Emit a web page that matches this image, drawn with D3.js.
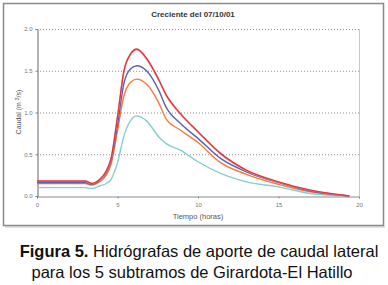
<!DOCTYPE html>
<html>
<head>
<meta charset="utf-8">
<script src="https://cdn.jsdelivr.net/npm/d3@7"></script>
<style>
  body { margin: 0; background: #fff; }
  svg { display: block; font-family: "Liberation Sans", Arial, sans-serif; }
</style>
</head>
<body>
<div class="chart"></div>
<script>
// tiempo (horas)
const tiempo = [0, 3, 3.4, 3.9, 4.3, 4.6, 5.0, 5.4, 5.8, 6.2, 6.8, 7.6, 8.0, 8.9, 10.0, 11.4, 13.0, 15.0, 17.0, 19.4]
// caudal por subtramo (m3/s)
const tramo1 = [0.18, 0.18, 0.15, 0.20, 0.30, 0.45, 0.95, 1.50, 1.70, 1.76, 1.65, 1.38, 1.22, 0.99, 0.77, 0.51, 0.31, 0.17, 0.07, 0.0]
const tramo2 = [0.175, 0.175, 0.148, 0.197, 0.295, 0.445, 0.94, 1.49, 1.69, 1.75, 1.64, 1.37, 1.21, 0.98, 0.765, 0.505, 0.305, 0.167, 0.068, 0.0]
const tramo3 = [0.16, 0.16, 0.14, 0.19, 0.28, 0.42, 0.85, 1.35, 1.52, 1.56, 1.50, 1.25, 1.07, 0.87, 0.69, 0.45, 0.29, 0.16, 0.06, 0.0]
const tramo4 = [0.15, 0.15, 0.13, 0.17, 0.25, 0.38, 0.78, 1.20, 1.36, 1.40, 1.34, 1.10, 0.93, 0.79, 0.64, 0.40, 0.26, 0.14, 0.05, 0.0]
const tramo5 = [0.10, 0.10, 0.09, 0.12, 0.15, 0.20, 0.40, 0.72, 0.90, 0.96, 0.90, 0.70, 0.63, 0.55, 0.41, 0.27, 0.17, 0.11, 0.03, 0.0]
const series = [
    { name: "tramo5", values: tramo5, color: "#86d0cb" },
    { name: "tramo4", values: tramo4, color: "#f47b3a" },
    { name: "tramo3", values: tramo3, color: "#5862b0" },
    { name: "tramo2", values: tramo2, color: "#e99aac" },
    { name: "tramo1", values: tramo1, color: "#e6353a" }
]
const xTicks = [0, 5, 10, 15, 20]
const yTicks = [0, 0.5, 1.0, 1.5, 2.0]

let width = 388
let height = 285
let svg = d3.select(".chart")
    .append("svg")
    .attr("width", width)
    .attr("height", height)

// marco exterior
svg.append("line")
    .attr("x1", 5).attr("x2", 385).attr("y1", 227).attr("y2", 227)
    .attr("stroke", "#e2e2e2").attr("stroke-width", 2)
svg.append("rect")
    .attr("x", 3.5).attr("y", 3.5)
    .attr("width", 380).attr("height", 222)
    .attr("fill", "none")
    .attr("stroke", "#8a8a8a")
    .attr("stroke-width", 1.5)

let x = d3.scaleLinear().domain([0, 20]).range([37, 359])
let y = d3.scaleLinear().domain([0, 2]).range([196, 29])

// rejilla punteada
svg.append("g")
    .selectAll("line")
    .data(yTicks.filter(d => d > 0))
    .enter()
    .append("line")
    .attr("x1", x(0)).attr("x2", x(20))
    .attr("y1", d => y(d) + 0.5).attr("y2", d => y(d) + 0.5)
    .attr("stroke", "#8f8f8f")
    .attr("stroke-width", 1)
    .attr("stroke-dasharray", "1,2")

// borde derecho del área
svg.append("line")
    .attr("x1", x(20) + 0.5).attr("x2", x(20) + 0.5)
    .attr("y1", y(2)).attr("y2", y(0))
    .attr("stroke", "#c8c8c8")

// ejes
let xAxis = svg.append("g")
    .attr("transform", `translate(0,${y(0) + 0.5})`)
    .call(d3.axisBottom(x).tickValues(xTicks).tickSize(2).tickFormat(d3.format("d")))
let yAxis = svg.append("g")
    .attr("transform", `translate(${x(0) + 0.5},0)`)
    .call(d3.axisLeft(y).tickValues(yTicks).tickSize(2).tickFormat(d3.format(".1f")))
xAxis.select(".domain").attr("stroke", "#8a8a8a")
yAxis.select(".domain").attr("stroke", "#666")
svg.selectAll(".tick line").attr("stroke", "#888")
svg.selectAll(".tick text")
    .attr("fill", "#777")
    .attr("font-size", 6)
    .attr("font-family", "Liberation Sans, Arial, sans-serif")
xAxis.selectAll(".tick text").attr("dy", "0.9em")

// curvas
let line = d3.line()
    .x((d, i) => x(tiempo[i]))
    .y(d => y(d))
    .curve(d3.curveMonotoneX)
svg.append("g")
    .selectAll("path")
    .data(series)
    .enter()
    .append("path")
    .attr("fill", "none")
    .attr("stroke", d => d.color)
    .attr("stroke-width", 1.4)
    .attr("d", d => line(d.values))

// títulos
svg.append("text")
    .attr("x", 193).attr("y", 17)
    .attr("text-anchor", "middle")
    .attr("font-size", 8)
    .attr("font-weight", "bold")
    .attr("fill", "#333")
    .text("Creciente del 07/10/01")
svg.append("text")
    .attr("x", 198).attr("y", 219)
    .attr("text-anchor", "middle")
    .attr("font-size", 7.5)
    .attr("fill", "#555")
    .text("Tiempo (horas)")
let yLabel = svg.append("text")
    .attr("transform", "translate(21,112) rotate(-90)")
    .attr("text-anchor", "middle")
    .attr("font-size", 7)
    .attr("fill", "#555")
yLabel.append("tspan").text("Caudal (m ")
yLabel.append("tspan").attr("font-size", 5).attr("dy", -2.5).text("3")
yLabel.append("tspan").attr("dy", 2.5).text("/s)")

// pie de figura
let cap1 = svg.append("text")
    .attr("x", 199).attr("y", 257)
    .attr("text-anchor", "middle")
    .attr("font-size", 16.5)
    .attr("fill", "#111")
cap1.append("tspan").attr("font-weight", "bold").text("Figura 5.")
cap1.append("tspan").text(" Hidrógrafas de aporte de caudal lateral")
svg.append("text")
    .attr("x", 192).attr("y", 278)
    .attr("text-anchor", "middle")
    .attr("font-size", 16.5)
    .attr("fill", "#111")
    .text("para los 5 subtramos de Girardota-El Hatillo")
</script>
</body>
</html>
